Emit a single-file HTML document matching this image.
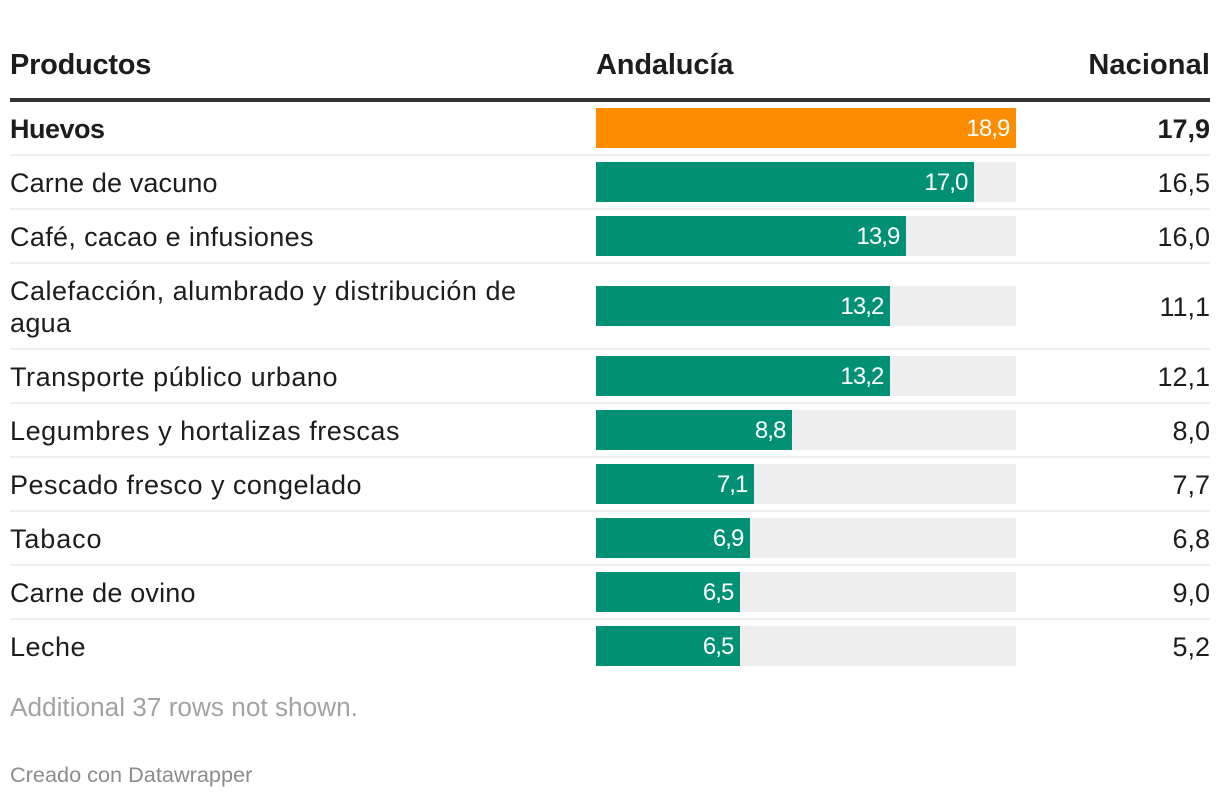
<!DOCTYPE html>
<html lang="es">
<head>
<meta charset="utf-8">
<title>Productos: Andalucía y Nacional</title>
<style>
html,body{margin:0;padding:0;background:#fff;width:1220px;height:798px;overflow:hidden}
svg{display:block}
text{font-family:"Liberation Sans",Arial,sans-serif;fill:#1d1d1d}
.head{font-size:29px;font-weight:700;letter-spacing:-.15px}
.label{font-size:27px}
.label.hl{font-weight:700;letter-spacing:-.5px}
.val{font-size:24px;fill:#fff;text-anchor:end;letter-spacing:-.9px}
.nat{font-size:27px;text-anchor:end}
.nat.hl{font-weight:700}
</style>
</head>
<body>
<svg id="chart" width="1220" height="798" viewBox="0 0 1220 798" xmlns="http://www.w3.org/2000/svg">
  <text class="head" x="10" y="74" style="letter-spacing:-.25px">Productos</text>
  <text class="head" x="596" y="74">Andalucía</text>
  <text class="head" x="1210" y="74" text-anchor="end" style="letter-spacing:.1px">Nacional</text>
  <rect x="10" y="98" width="1200" height="4" fill="#333"/>
  <g id="rows"></g>
  <text x="10" y="716" font-size="26.2" style="fill:#a3a3a3">Additional 37 rows not shown.</text>
  <text x="10" y="782" font-size="21.7" style="fill:#8c8c8c">Creado con Datawrapper</text>
</svg>
<script>
const products = [
  ["Huevos"],
  ["Carne de vacuno"],
  ["Café, cacao e infusiones"],
  ["Calefacción, alumbrado y distribución de", "agua"],
  ["Transporte público urbano"],
  ["Legumbres y hortalizas frescas"],
  ["Pescado fresco y congelado"],
  ["Tabaco"],
  ["Carne de ovino"],
  ["Leche"]
];
const andalucia = [18.9, 17.0, 13.94, 13.23, 13.23, 8.82, 7.1, 6.92, 6.5, 6.5];
const nacional = [17.9, 16.5, 16.0, 11.1, 12.1, 8.0, 7.7, 6.8, 9.0, 5.2];
const highlighted = ["Huevos"];

const NS = "http://www.w3.org/2000/svg";
const group = document.getElementById("rows");
const barX = 596, barTrack = 420, barMax = 18.9, barH = 40;
const xScale = v => Math.round(v / barMax * barTrack);
const fmt = v => v.toFixed(1).replace(".", ",");
const slug = s => s.normalize("NFD").replace(/[^\w\s]/g, "").trim().toLowerCase().replace(/\s+/g, "-");
/* Rendered widths that compensate for the substitute font's narrower set width. */
const labelFit = new Map([
  ["Carne de vacuno", 207.5],
  ["Café, cacao e infusiones", 303.5],
  ["Calefacción, alumbrado y distribución de", 506],
  ["agua", 61],
  ["Transporte público urbano", 327.5],
  ["Legumbres y hortalizas frescas", 389.5],
  ["Pescado fresco y congelado", 351.5],
  ["Tabaco", 91.5],
  ["Carne de ovino", 185.5],
  ["Leche", 75.5]
]);

function mk(tag, attrs, txt) {
  const el = document.createElementNS(NS, tag);
  for (const k in attrs) el.setAttribute(k, attrs[k]);
  if (txt !== undefined) el.textContent = txt;
  return el;
}

let rowTop = 102;
products.forEach((lines, i) => {
  const rowH = lines.length > 1 ? 86 : 54;
  const barY = rowTop + (rowH - 2 - barH) / 2;
  const hl = highlighted.includes(lines[0]);
  const key = slug(lines[0]).slice(0, 24);

  const track = mk("rect", {x: barX, y: barY, width: barTrack, height: barH, fill: "#eeeeee"});
  
  
  group.appendChild(track);

  const w = xScale(andalucia[i]);
  const bar = mk("rect", {x: barX, y: barY, width: w, height: barH, fill: hl ? "#fd8c00" : "#009175"});
  
  
  group.appendChild(bar);

  const val = mk("text", {class: "val", x: barX + w - 6.5, y: barY + 28}, fmt(andalucia[i]));
  
  
  group.appendChild(val);

  lines.forEach((line, j) => {
    const baseline = barY + 30 + (lines.length > 1 ? (j === 0 ? -16 : 16) : 0);
    const label = mk("text", {class: hl ? "label hl" : "label", x: 10, y: baseline}, line);
    if (labelFit.has(line)) label.setAttribute("textLength", labelFit.get(line));
    
    
    group.appendChild(label);
  });

  const nat = mk("text", {class: hl ? "nat hl" : "nat", x: 1210, y: barY + 30}, fmt(nacional[i]));
  
  
  group.appendChild(nat);

  if (i < products.length - 1) {
    const sep = mk("rect", {x: 10, y: rowTop + rowH - 2, width: 1200, height: 2, fill: "#eeeeee"});
    
    
    group.appendChild(sep);
  }
  rowTop += rowH;
});
</script>
</body>
</html>
